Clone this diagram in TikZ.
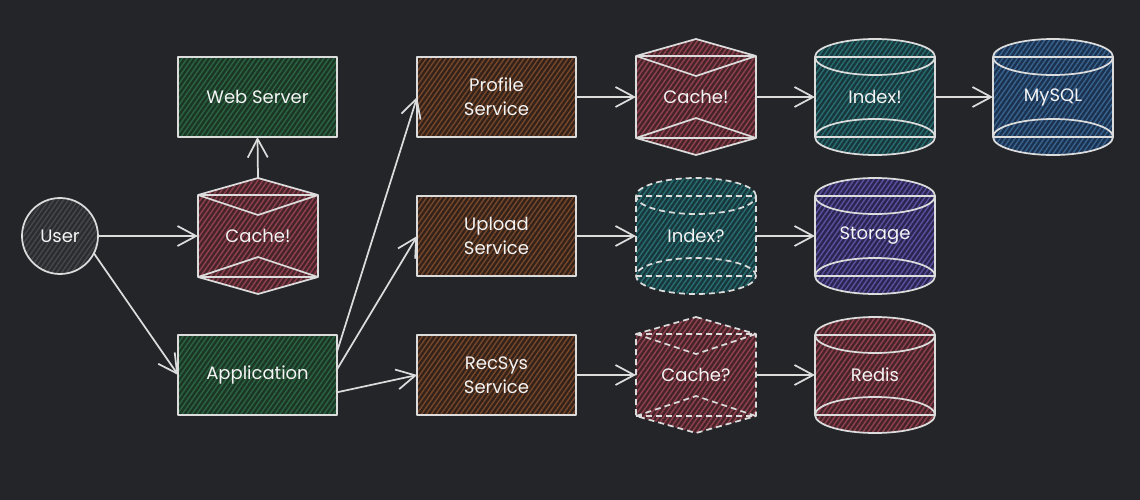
\documentclass[tikz,border=0pt]{standalone}
\usepackage{fontspec}
\setmainfont{Poppins}
\usetikzlibrary{arrows.meta,patterns.meta}
\definecolor{bg}{HTML}{232529}
\definecolor{ln}{HTML}{DCDCDC}
\definecolor{tx}{HTML}{F4F4F4}
\definecolor{gF}{HTML}{1B3526}\definecolor{gL}{HTML}{2C6440}
\definecolor{bF}{HTML}{33221A}\definecolor{bL}{HTML}{74462A}
\definecolor{rF}{HTML}{45232A}\definecolor{rL}{HTML}{8E414C}
\definecolor{tF}{HTML}{17373B}\definecolor{tL}{HTML}{286B70}
\definecolor{mF}{HTML}{1B3150}\definecolor{mL}{HTML}{38628C}
\definecolor{pF}{HTML}{2A2550}\definecolor{pL}{HTML}{5A4F9C}
\definecolor{uF}{HTML}{2A2C30}\definecolor{uL}{HTML}{45474B}
\tikzset{
  stroke/.style={draw=ln, line width=1.3pt, line join=round},
  hach/.style 2 args={preaction={fill=#1}, pattern={Lines[angle=55,distance=3pt,line width=1.1pt]}, pattern color=#2},
  txt/.style={text=tx, font=\fontsize{13.5}{18}\selectfont, align=center},
  svc/.style 2 args={hach={#1}{#2}, stroke, txt, minimum width=119pt, minimum height=60pt, inner sep=0pt, outer sep=0pt},
  shapenode/.style={txt, minimum width=90pt, minimum height=87pt, inner sep=0pt, outer sep=0pt},
  conn/.style={draw=ln, line width=1.3pt, line cap=round, -{Straight Barb[length=14pt,width=15pt,line width=1.3pt]}},
  dsh/.style={dash pattern=on 4.5pt off 3pt},
}
% hexagon: #1 cx, #2 cy, #3 fill, #4 hatch colour, #5 extra style
\newcommand\hexshape[5]{%
  \path[hach={#3}{#4}] (#1,#2-58) -- (#1+60,#2-41) -- (#1+60,#2+41) -- (#1,#2+58) -- (#1-60,#2+41) -- (#1-60,#2-41) -- cycle;
  \draw[stroke,#5] (#1,#2-58) -- (#1+60,#2-41) -- (#1+60,#2+41) -- (#1,#2+58) -- (#1-60,#2+41) -- (#1-60,#2-41) -- cycle;
  \draw[stroke,#5] (#1-60,#2-41) -- (#1+60,#2-41);
  \draw[stroke,#5] (#1-60,#2-41) -- (#1,#2-21) -- (#1+60,#2-41);
  \draw[stroke,#5] (#1-60,#2+41) -- (#1+60,#2+41);
  \draw[stroke,#5] (#1-60,#2+41) -- (#1,#2+21) -- (#1+60,#2+41);
}
% cylinder: #1 cx, #2 cy, #3 fill, #4 hatch colour, #5 extra style
\newcommand\cylshape[5]{%
  \path[hach={#3}{#4}] (#1-60,#2-40) -- (#1-60,#2+40) arc[start angle=180,end angle=360,x radius=45pt,y radius=13.5pt]
     -- (#1+60,#2-40) arc[start angle=0,end angle=180,x radius=45pt,y radius=13.5pt] -- cycle;
  \draw[stroke,#5] (#1,#2-40) ellipse[x radius=45pt,y radius=13.5pt];
  \draw[stroke,#5] (#1,#2+40) ellipse[x radius=45pt,y radius=13.5pt];
  \draw[stroke,#5] (#1-60,#2-40) -- (#1-60,#2+40);
  \draw[stroke,#5] (#1+60,#2-40) -- (#1+60,#2+40);
  \draw[stroke,#5] (#1-60,#2-40) -- (#1+60,#2-40);
  \draw[stroke,#5] (#1-60,#2+40) -- (#1+60,#2+40);
}
\begin{document}
\begin{tikzpicture}[x=0.75pt,y=-0.75pt]
\fill[bg] (0,0) rectangle (1140,500);

% left part
\node[circle, hach={uF}{uL}, stroke, txt, minimum size=57pt, inner sep=0pt, outer sep=0pt] (user) at (60,236) {User};
\node[svc={gF}{gL}] (web) at (257.5,97) {Web Server};
\hexshape{258}{236}{rF}{rL}{}
\node[shapenode] (cacheA) at (258,236) {Cache!};
\node[svc={gF}{gL}] (app) at (257.5,375) {Application};

% services
\node[svc={bF}{bL}] (prof) at (496.5,97) {Profile\\Service};
\node[svc={bF}{bL}] (upl) at (496.5,236) {Upload\\Service};
\node[svc={bF}{bL}] (rec) at (496.5,375) {RecSys\\Service};

% row 1
\hexshape{696}{97}{rF}{rL}{}
\node[shapenode] (cacheB) at (696,97) {Cache!};
\cylshape{875}{97}{tF}{tL}{}
\node[shapenode] (idxA) at (875,97) {Index!};
\cylshape{1053}{97}{mF}{mL}{}
\node[shapenode] (mysql) at (1053,97) {MySQL};

% row 2
\cylshape{696}{236}{tF}{tL}{dsh}
\node[shapenode] (idxB) at (696,236) {Index?};
\cylshape{875}{236}{pF}{pL}{}
\node[shapenode] (stor) at (875,236) {Storage};

% row 3
\hexshape{696}{375}{rF}{rL}{dsh}
\node[shapenode] (cacheC) at (696,375) {Cache?};
\cylshape{875}{375}{rF}{rL}{}
\node[shapenode] (redis) at (875,375) {Redis};

% connectors
\draw[conn] (user.east) -- (cacheA.west);
\draw[conn] (user.-27) -- (app.west);
\draw[conn] (cacheA.north) -- (web.south);
\draw[conn] ([yshift=17pt]app.east) -- (prof.west);
\draw[conn] ([yshift=4pt]app.east) -- (upl.west);
\draw[conn] ([yshift=-13pt]app.east) -- (rec.west);
\draw[conn] (prof.east) -- (cacheB.west);
\draw[conn] (cacheB.east) -- (idxA.west);
\draw[conn] (idxA.east) -- (mysql.west);
\draw[conn] (upl.east) -- (idxB.west);
\draw[conn] (idxB.east) -- (stor.west);
\draw[conn] (rec.east) -- (cacheC.west);
\draw[conn] (cacheC.east) -- (redis.west);
\end{tikzpicture}
\end{document}
